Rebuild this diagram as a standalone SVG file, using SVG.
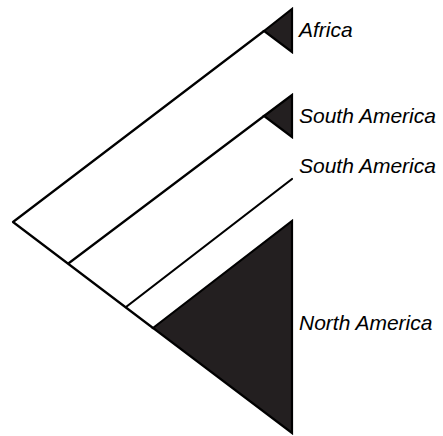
<svg xmlns="http://www.w3.org/2000/svg" width="443" height="436" viewBox="0 0 443 436">
<style>
.br{fill:none;stroke:#000;stroke-width:2.2;stroke-linecap:round;stroke-linejoin:round}
.cl{fill:#231f20;stroke:#000;stroke-width:2.2;stroke-linejoin:miter}
.lb{font-family:"Liberation Sans",Arial,sans-serif;font-style:italic;font-size:21px;fill:#000}
</style>
<rect width="443" height="436" fill="#fff"/>
<g id="connectors">
<polyline class="br" points="264,31 13,222 153,328"/>
<line class="br" x1="69" y1="263" x2="264" y2="116"/>
<line class="br" x1="126" y1="307" x2="292" y2="179"/>
</g>
<g id="africa">
<polygon class="cl" points="264,31 292,9 292,52"/>
<text class="lb" x="299" y="37">Africa</text>
</g>
<g id="south-america-1">
<polygon class="cl" points="264,116 292,95 292,137"/>
<text class="lb" x="299" y="123">South America</text>
</g>
<g id="south-america-2">
<text class="lb" x="299" y="173">South America</text>
</g>
<g id="north-america">
<polygon class="cl" points="153,328 292,221 292,433"/>
<text class="lb" x="299" y="330">North America</text>
</g>
</svg>
